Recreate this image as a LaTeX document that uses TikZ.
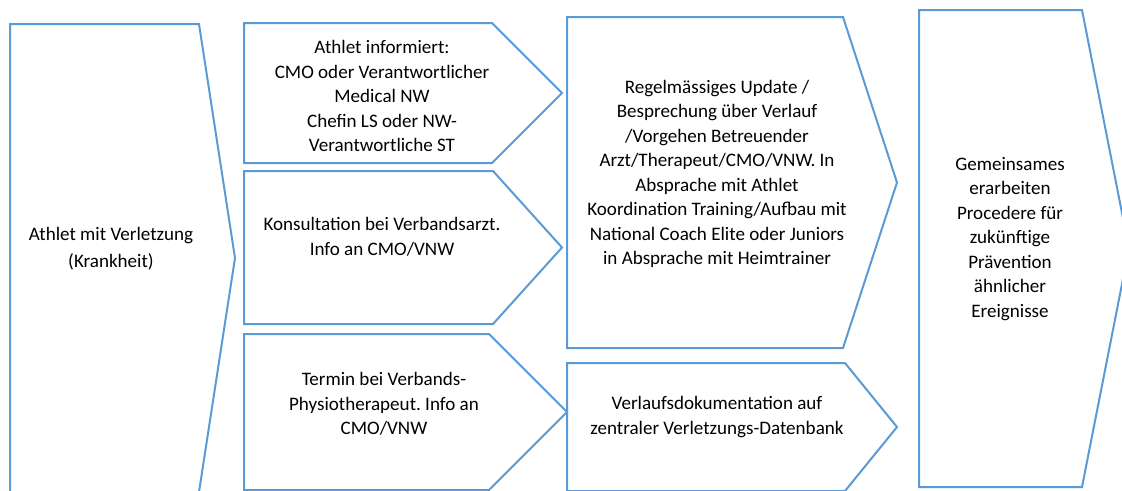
\documentclass[tikz,border=0pt]{standalone}
\usepackage{fontspec}
\setmainfont{Carlito}
\frenchspacing
\definecolor{chevblue}{HTML}{5B9BD5}
\tikzset{
	chev/.style = {draw = chevblue, line width = 1.5pt, line join = miter},
	chevtext/.style = {align = center, inner sep = 0pt, font = \fontsize{14.3}{18.4}\selectfont}
}
\begin{document}
\begin{tikzpicture}[x = .75pt, y = -.75pt]
			\clip (0,0) rectangle (1122,490);% Rahmen
			\fill[white] (0,0) rectangle (1122,490);
			% Pfeilformen: links/oben/rechts/Spitze/unten
			\foreach \l/\t/\r/\p/\b in {10/24/199/235/492, 244/23/492/562/163, 244/171/493/562/324, 244/334/489/567/490, 567/17/843/897/348, 567/363/845/897/491, 919/10/1082/1129/487}{
				\draw[chev] (\l,\t) -- (\r,\t) -- (\p,{(\t+\b)/2}) -- (\r,\b) -- (\l,\b) -- cycle;
			}
			\node[chevtext, font = \fontsize{14.3}{20}\selectfont] (athlet) at (111,249) {Athlet mit Verletzung\\(Krankheit)};
			\node[chevtext] (info) at (382,96) {Athlet informiert:\\CMO oder Verantwortlicher\\Medical NW\\Chefin LS oder NW-\\Verantwortliche ST};
			\node[chevtext] (arzt) at (382,237) {Konsultation bei Verbandsarzt.\\Info an CMO/VNW};
			\node[chevtext] (physio) at (384,404) {Termin bei Verbands-\\Physiotherapeut. Info an\\CMO/VNW};
			\node[chevtext] (update) at (717,174) {Regelmässiges Update /\\Besprechung über Verlauf\\/Vorgehen Betreuender\\Arzt/Therapeut/CMO/VNW. In\\Absprache mit Athlet\\Koordination Training/Aufbau mit\\National Coach Elite oder Juniors\\in Absprache mit Heimtrainer};
			\node[chevtext] (doku) at (717,417) {Verlaufsdokumentation auf\\zentraler Verletzungs-Datenbank};
			\node[chevtext] (praev) at (1010,239) {Gemeinsames\\erarbeiten\\Procedere für\\zukünftige\\Prävention\\ähnlicher\\Ereignisse};
		\end{tikzpicture}
\end{document}
